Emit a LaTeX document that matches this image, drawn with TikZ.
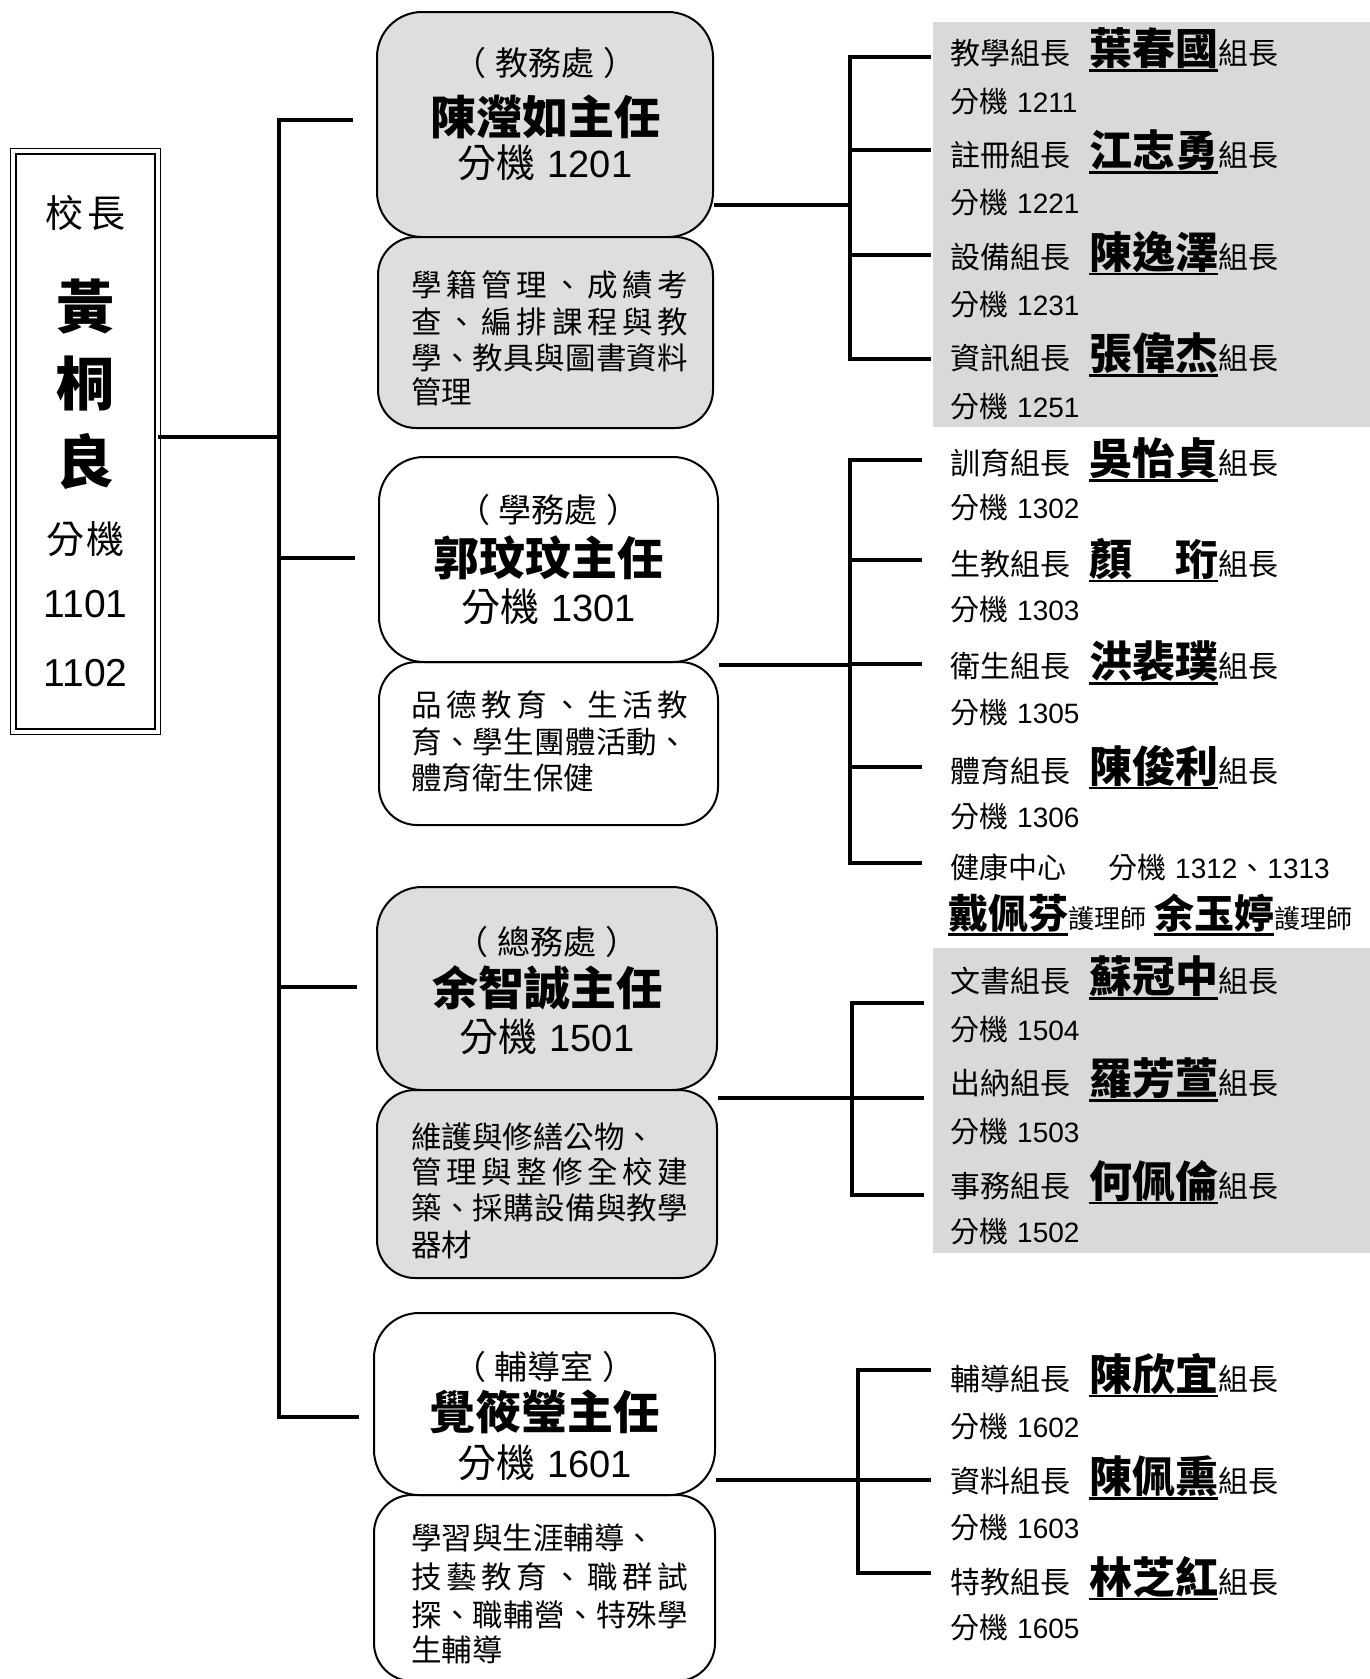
\documentclass[tikz,border=0pt]{standalone}
\usepackage{fontspec}
\setmainfont{Liberation Sans}
\newfontfamily\cjk{Noto Sans CJK TC}
\newfontfamily\lat{Liberation Sans}
\newcommand\fsz[1]{\fontsize{#1}{#1}\selectfont}
\newcommand\uln[1]{\setbox0\hbox{#1}\rlap{\rule[-7pt]{\wd0}{2.5pt}}\box0}
\ExplSyntaxOn
\NewDocumentCommand\spreadline{mm}{\makebox[#1][s]{\tl_map_inline:nn{#2}{##1\hfil}\unskip}}
\ExplSyntaxOff
\definecolor{boxgrey}{HTML}{DEDEDE}
\definecolor{panelgrey}{HTML}{D9D9D9}
\newcommand\trow[3]{{\cjk\fsz{30}#1}\hspace{19pt}\uln{\cjk\bfseries\fsz{43}#2}{\cjk\fsz{30}#3}}
\newcommand\erow[1]{{\cjk\fsz{29}分機}\hspace{9pt}{\lat\fsz{28}#1}}
\newcommand\dtext{\cjk\fsz{30.5}}
\newcommand\headA[1]{\cjk\fsz{33}（\hspace{9pt}#1\hspace{9pt}）}
\newcommand\headB[1]{\cjk\bfseries\fsz{46}#1}
\newcommand\headC[1]{{\cjk\fsz{39}分機}\hspace{12pt}{\lat\fsz{38}#1}}
\begin{document}
\begin{tikzpicture}[x=1pt,y=-1pt,
  conn/.style={line width=3.5pt},
  mainbox/.style={draw, line width=2pt, rounded corners=45pt, inner sep=0pt},
  descbox/.style={draw, line width=2pt, rounded corners=38pt, inner sep=0pt},
  txt/.style={inner sep=0pt},
  rowtxt/.style={inner sep=0pt, anchor=west},
]
\useasboundingbox (0,0) rectangle (1370,1679);
% grey panels behind lists
\fill[panelgrey] (933,22) rectangle (1370,427);
\fill[panelgrey] (933,948) rectangle (1370,1253);

% principal
\node[draw, double, double distance=4pt, line width=1.3pt, inner sep=0pt,
      minimum width=144.4pt, minimum height=580.4pt] (pr) at (85.5,441.5) {};
\node[txt] (prT) at (85.5,213) {\cjk\fsz{38}校\hspace{4pt}長};
\node[txt] (prN1) at (85.5,307) {\cjk\bfseries\fsz{58}黃};
\node[txt] (prN2) at (85.5,384) {\cjk\bfseries\fsz{58}桐};
\node[txt] (prN3) at (85.5,461) {\cjk\bfseries\fsz{58}良};
\node[txt] (prE) at (85.5,539) {\cjk\fsz{38}分\hspace{2pt}機};
\node[txt] (prE1) at (85.5,604) {\lat\fsz{39}1101};
\node[txt] (prE2) at (85.5,673) {\lat\fsz{39}1102};

% trunk
\coordinate (tTop) at (279,120);
\coordinate (tBot) at (279,1417);
\coordinate (s1) at (353,120);
\coordinate (s2) at (355,558);
\coordinate (s3) at (357,987);
\coordinate (s4) at (359,1417);
\coordinate (pj) at (279,437);
\draw[conn] (s1) -- (tTop) -- (tBot) -- (s4);
\draw[conn] (tTop |- s2) -- (s2);
\draw[conn] (tTop |- s3) -- (s3);
\draw[conn] (pr.east |- pj) -- (pj);

% ---------- group 1 ----------
\node[mainbox, fill=boxgrey, minimum width=336pt, minimum height=225pt] (m1) at (545,124.5) {};
\node[descbox, fill=boxgrey, minimum width=335pt, minimum height=191pt] (d1) at (545.5,332.5) {};
\node[txt] (m1a) at (545,63) {\headA{教務處}};
\node[txt] (m1b) at (545,117) {\headB{陳瀅如主任}};
\node[txt] (m1c) at (545,163) {\headC{1201}};
\node[rowtxt] (d1a) at (411,285) {\dtext\spreadline{277pt}{學籍管理、成績考}};
\node[rowtxt] (d1b) at (411,322) {\dtext\spreadline{277pt}{查、編排課程與教}};
\node[rowtxt] (d1c) at (411,358) {\dtext\spreadline{277pt}{學、教具與圖書資料}};
\node[rowtxt] (d1d) at (411,392) {\dtext 管理};

\coordinate (b1t) at (850,57); \coordinate (b1b) at (850,359); \coordinate (b1j) at (850,205);
\coordinate (e1a) at (931,57); \coordinate (e1b) at (931,150);
\coordinate (e1c) at (931,255); \coordinate (e1d) at (931,359);
\draw[conn] (e1a) -- (b1t) -- (b1b) -- (e1d);
\draw[conn] (b1t |- e1b) -- (e1b);
\draw[conn] (b1t |- e1c) -- (e1c);
\draw[conn] (m1.east |- b1j) -- (b1j);

\node[rowtxt] (r1a) at (950,50) {\trow{教學組長}{葉春國}{組長}};
\node[rowtxt] (r1b) at (950,102) {\erow{1211}};
\node[rowtxt] (r1c) at (950,152) {\trow{註冊組長}{江志勇}{組長}};
\node[rowtxt] (r1d) at (950,203) {\erow{1221}};
\node[rowtxt] (r1e) at (950,253) {\trow{設備組長}{陳逸澤}{組長}};
\node[rowtxt] (r1f) at (950,305) {\erow{1231}};
\node[rowtxt] (r1g) at (950,355) {\trow{資訊組長}{張偉杰}{組長}};
\node[rowtxt] (r1h) at (950,407) {\erow{1251}};

% ---------- group 2 ----------
\node[mainbox, minimum width=339pt, minimum height=205pt] (m2) at (548.5,559.5) {};
\node[descbox, minimum width=339pt, minimum height=163pt] (d2) at (548.5,743.5) {};
\node[txt] (m2a) at (548.5,510) {\headA{學務處}};
\node[txt] (m2b) at (548.5,558) {\headB{郭玟玟主任}};
\node[txt] (m2c) at (548.5,607) {\headC{1301}};
\node[rowtxt] (d2a) at (411,705) {\dtext\spreadline{277pt}{品德教育、生活教}};
\node[rowtxt] (d2b) at (411,742) {\dtext\spreadline{277pt}{育、學生團體活動、}};
\node[rowtxt] (d2c) at (411,778) {\dtext 體育衛生保健};

\coordinate (b2t) at (850,460); \coordinate (b2b) at (850,863); \coordinate (b2j) at (850,665);
\coordinate (e2a) at (922,460); \coordinate (e2b) at (922,560); \coordinate (e2c) at (922,664);
\coordinate (e2d) at (922,767); \coordinate (e2e) at (922,863);
\draw[conn] (e2a) -- (b2t) -- (b2b) -- (e2e);
\draw[conn] (b2t |- e2b) -- (e2b);
\draw[conn] (b2t |- e2c) -- (e2c);
\draw[conn] (b2t |- e2d) -- (e2d);
\draw[conn] (m2.east |- b2j) -- (b2j);

\node[rowtxt] (r2a) at (950,460) {\trow{訓育組長}{吳怡貞}{組長}};
\node[rowtxt] (r2b) at (950,508) {\erow{1302}};
\node[rowtxt] (r2c) at (950,560) {\trow{生教組長}{顏　珩}{組長}};
\node[rowtxt] (r2d) at (950,610) {\erow{1303}};
\node[rowtxt] (r2e) at (950,663) {\trow{衛生組長}{洪裴璞}{組長}};
\node[rowtxt] (r2f) at (950,713) {\erow{1305}};
\node[rowtxt] (r2g) at (950,767) {\trow{體育組長}{陳俊利}{組長}};
\node[rowtxt] (r2h) at (950,817) {\erow{1306}};
\node[rowtxt] (r2i) at (950,867) {{\cjk\fsz{29}健康中心}\hspace{42pt}\erow{1312}{\cjk\fsz{28}\makebox[30pt][c]{、}}{\lat\fsz{28}1313}};
\node[rowtxt] (r2j) at (948,915) {\uln{\cjk\bfseries\fsz{40}戴佩芬}{\cjk\fsz{26}護理師}\hspace{8pt}\uln{\cjk\bfseries\fsz{40}余玉婷}{\cjk\fsz{26}護理師}};

% ---------- group 3 ----------
\node[mainbox, fill=boxgrey, minimum width=340pt, minimum height=203pt] (m3) at (547,988.5) {};
\node[descbox, fill=boxgrey, minimum width=340pt, minimum height=188pt] (d3) at (547,1184) {};
\node[txt] (m3a) at (547,942) {\headA{總務處}};
\node[txt] (m3b) at (547,988) {\headB{余智誠主任}};
\node[txt] (m3c) at (547,1037) {\headC{1501}};
\node[rowtxt] (d3a) at (411,1137) {\dtext 維護與修繕公物、};
\node[rowtxt] (d3b) at (411,1172) {\dtext\spreadline{277pt}{管理與整修全校建}};
\node[rowtxt] (d3c) at (411,1208) {\dtext\spreadline{277pt}{築、採購設備與教學}};
\node[rowtxt] (d3d) at (411,1245) {\dtext 器材};

\coordinate (b3t) at (852,1003); \coordinate (b3b) at (852,1195); \coordinate (b3j) at (852,1098);
\coordinate (e3a) at (924,1003); \coordinate (e3b) at (924,1098); \coordinate (e3c) at (924,1195);
\draw[conn] (e3a) -- (b3t) -- (b3b) -- (e3c);
\draw[conn] (m3.east |- b3j) -- (e3b);

\node[rowtxt] (r3a) at (950,978) {\trow{文書組長}{蘇冠中}{組長}};
\node[rowtxt] (r3b) at (950,1030) {\erow{1504}};
\node[rowtxt] (r3c) at (950,1080) {\trow{出納組長}{羅芳萱}{組長}};
\node[rowtxt] (r3d) at (950,1132) {\erow{1503}};
\node[rowtxt] (r3e) at (950,1182) {\trow{事務組長}{何佩倫}{組長}};
\node[rowtxt] (r3f) at (950,1232) {\erow{1502}};

% ---------- group 4 ----------
\node[mainbox, minimum width=341pt, minimum height=182pt] (m4) at (544.5,1404) {};
\node[descbox, minimum width=341pt, minimum height=186pt] (d4) at (544.5,1588) {};
\node[txt] (m4a) at (544.5,1367) {\headA{輔導室}};
\node[txt] (m4b) at (544.5,1412) {\headB{覺筱瑩主任}};
\node[txt] (m4c) at (544.5,1463) {\headC{1601}};
\node[rowtxt] (d4a) at (411,1538) {\dtext 學習與生涯輔導、};
\node[rowtxt] (d4b) at (411,1577) {\dtext\spreadline{277pt}{技藝教育、職群試}};
\node[rowtxt] (d4c) at (411,1615) {\dtext\spreadline{277pt}{探、職輔營、特殊學}};
\node[rowtxt] (d4d) at (411,1650) {\dtext 生輔導};

\coordinate (b4t) at (858,1370); \coordinate (b4b) at (858,1573); \coordinate (b4j) at (858,1480);
\coordinate (e4a) at (931,1370); \coordinate (e4b) at (931,1480); \coordinate (e4c) at (931,1573);
\draw[conn] (e4a) -- (b4t) -- (b4b) -- (e4c);
\draw[conn] (m4.east |- b4j) -- (e4b);

\node[rowtxt] (r4a) at (950,1375) {\trow{輔導組長}{陳欣宜}{組長}};
\node[rowtxt] (r4b) at (950,1427) {\erow{1602}};
\node[rowtxt] (r4c) at (950,1478) {\trow{資料組長}{陳佩熏}{組長}};
\node[rowtxt] (r4d) at (950,1528) {\erow{1603}};
\node[rowtxt] (r4e) at (950,1578) {\trow{特教組長}{林芝紅}{組長}};
\node[rowtxt] (r4f) at (950,1628) {\erow{1605}};
\end{tikzpicture}
\end{document}
